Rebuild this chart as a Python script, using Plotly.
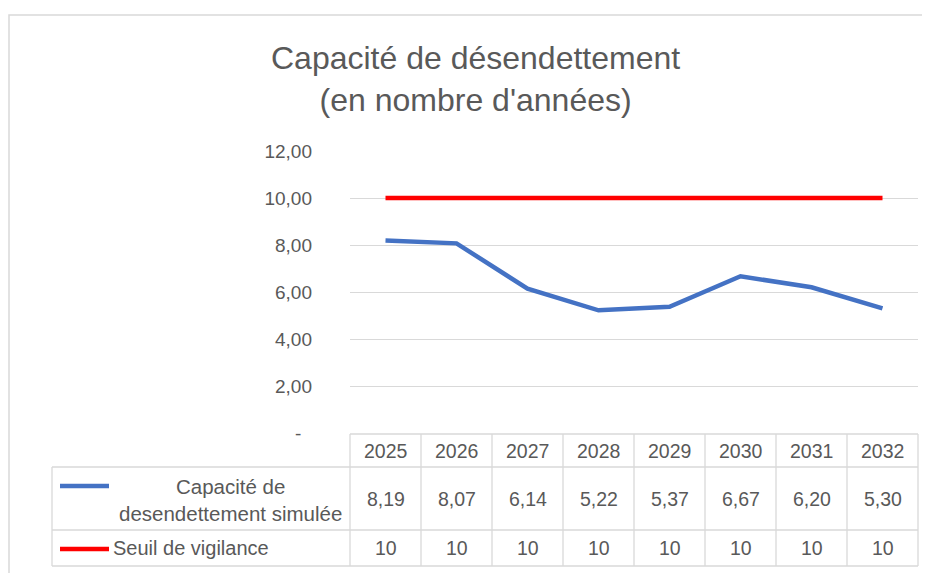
import plotly.graph_objects as go

W, H = 930, 573

years = ["2025", "2026", "2027", "2028", "2029", "2030", "2031", "2032"]
capacite = [8.19, 8.07, 6.14, 5.22, 5.37, 6.67, 6.20, 5.30]
seuil = [10, 10, 10, 10, 10, 10, 10, 10]
series_names = ["Capacité de<br>desendettement simulée", "Seuil de vigilance"]
y_ticks = [0, 2, 4, 6, 8, 10, 12]
y_tick_labels = ["-\u00a0\u00a0", "2,00", "4,00", "6,00", "8,00", "10,00", "12,00"]
title_text = "Capacité de désendettement<br>(en nombre d'années)"

BLUE = "#4472C4"
RED = "#FF0000"
GRID = "#D9D9D9"
TXT = "#595959"
FONT = "Liberation Sans"

# the page body adds an 8px margin; compensate so screen pixels match
OFF = 8


def px(x):
    return (x - OFF) / W


def py(y):
    return 1 - (y - OFF) / H


# plot area (screen pixels)
X0, X1 = 350, 918
Y_TOP, Y_BOT = 151, 433

fig = go.Figure()
xs = list(range(len(years)))
fig.add_trace(go.Scatter(x=xs, y=capacite, mode="lines",
                         line=dict(color=BLUE, width=4.5), showlegend=False))
fig.add_trace(go.Scatter(x=xs, y=seuil, mode="lines",
                         line=dict(color=RED, width=4.5), showlegend=False))

shapes = []
# outer chart border
shapes.append(dict(type="rect", xref="paper", yref="paper",
                   x0=px(9), x1=px(960), y0=py(600), y1=py(15),
                   line=dict(color=GRID, width=1.5), layer="below"))

# table geometry
n = len(years)
col_w = (X1 - X0) / n
r_head_top, r_head_bot, r1_bot, r2_bot = 434, 467, 530, 566
LEFT = 52


def hline(x0, x1, y):
    shapes.append(dict(type="line", xref="paper", yref="paper",
                       x0=px(x0), x1=px(x1), y0=py(y), y1=py(y),
                       line=dict(color=GRID, width=1.3)))


def vline(x, y0, y1):
    shapes.append(dict(type="line", xref="paper", yref="paper",
                       x0=px(x), x1=px(x), y0=py(y0), y1=py(y1),
                       line=dict(color=GRID, width=1.3)))


hline(X0, X1, r_head_top)
hline(LEFT, X1, r_head_bot)
hline(LEFT, X1, r1_bot)
hline(LEFT, X1, r2_bot)
for i in range(n + 1):
    vline(X0 + i * col_w, r_head_top, r2_bot)
vline(LEFT, r_head_bot, r2_bot)

# legend keys in table
shapes.append(dict(type="line", xref="paper", yref="paper",
                   x0=px(60), x1=px(109), y0=py(486), y1=py(486),
                   line=dict(color=BLUE, width=4.5)))
shapes.append(dict(type="line", xref="paper", yref="paper",
                   x0=px(60), x1=px(109), y0=py(549), y1=py(549),
                   line=dict(color=RED, width=4.5)))

annotations = []
fs = 19.5


def txt(x, y, text, size=fs, xanchor="center", align="center"):
    annotations.append(dict(x=px(x), y=py(y), xref="paper", yref="paper",
                            text=text, showarrow=False, xanchor=xanchor,
                            yanchor="middle", align=align,
                            font=dict(size=size, color=TXT, family=FONT)))


for i, yr in enumerate(years):
    cx = X0 + (i + 0.5) * col_w
    txt(cx, (r_head_top + r_head_bot) / 2, yr)
    txt(cx, (r_head_bot + r1_bot) / 2, f"{capacite[i]:.2f}".replace(".", ","))
    txt(cx, (r1_bot + r2_bot) / 2, str(seuil[i]))

txt(230, 500, series_names[0], size=20.5)
txt(111, 548, series_names[1], size=20, xanchor="left")

# title
txt(476, 79, title_text, size=32)

fig.update_layout(
    template="none",
    width=W, height=H,
    margin=dict(l=0, r=0, t=0, b=0, pad=0, autoexpand=False),
    paper_bgcolor="white", plot_bgcolor="white",
    shapes=shapes, annotations=annotations,
    xaxis=dict(domain=[px(X0), px(X1)], range=[-0.5, n - 0.5],
               showgrid=False, zeroline=False, showticklabels=False,
               showline=False, fixedrange=True, automargin=False),
    yaxis=dict(domain=[py(Y_BOT), py(Y_TOP)], range=[0, 12],
               tickvals=y_ticks, ticktext=y_tick_labels,
               showgrid=True, gridcolor=GRID, gridwidth=1.3,
               zeroline=False, showline=False, ticks="",
               ticklabelstandoff=37, automargin=False,
               tickfont=dict(size=19, color=TXT, family=FONT)),
)

fig.write_html("out.html")
